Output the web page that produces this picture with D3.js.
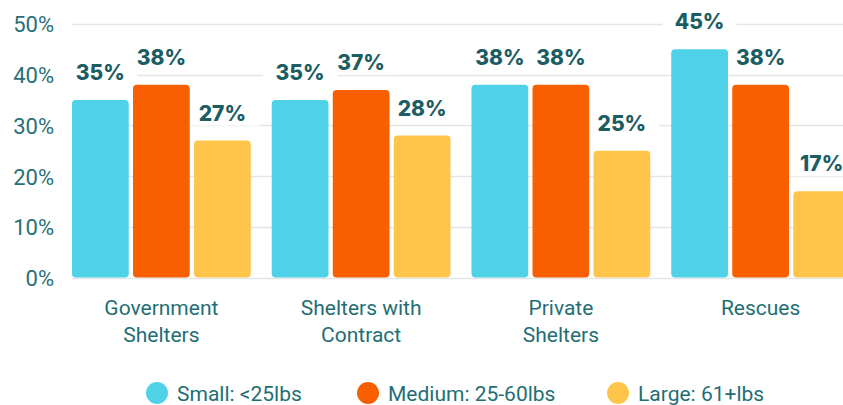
<!DOCTYPE html>
<html>
<head>
<meta charset="utf-8">
<script src="https://cdn.jsdelivr.net/npm/d3@7"></script>
<style>
  html, body { margin: 0; padding: 0; background: #ffffff; }
  svg { display: block; }
</style>
</head>
<body>
<svg id="chart" width="843" height="405"></svg>
<script>
// Share of dogs by size, per organisation type
const categories = [["Government", "Shelters"], ["Shelters with", "Contract"], ["Private", "Shelters"], ["Rescues"]];
const seriesNames = ["Small: <25lbs", "Medium: 25-60lbs", "Large: 61+lbs"];
const small = [35, 35, 38, 45];
const medium = [38, 37, 38, 38];
const large = [27, 28, 25, 17];
const yTicks = [0, 10, 20, 30, 40, 50];

const colors = ["#4fd1e8", "#f75f00", "#ffc54a"];
const series = [small, medium, large];

const svg = d3.select("#chart");
const W = 843, H = 405;

const x = d3.scaleBand()
  .domain(d3.range(categories.length))
  .range([61.5, 860.5])
  .paddingInner(0.105)
  .paddingOuter(0.0525);

const xs = d3.scaleBand()
  .domain(d3.range(series.length))
  .range([0, x.bandwidth()])
  .paddingInner(0.07);

const y = d3.scaleLinear().domain([0, 50]).range([277.5, 24]);

// flatten to one record per bar
const bars = [];
categories.forEach((c, ci) => {
  series.forEach((s, si) => {
    bars.push({ ci, si, value: s[ci], cx: x(ci) + xs(si) + xs.bandwidth() / 2 });
  });
});

// gridlines
svg.append("g")
  .selectAll("line")
  .data(yTicks)
  .join("line")
  .attr("x1", x(0))
  .attr("x2", W)
  .attr("y1", d => Math.round(y(d)) + 0.5)
  .attr("y2", d => Math.round(y(d)) + 0.5)
  .attr("stroke", "#e2e6e8")
  .attr("stroke-width", 1.5);

// y axis labels
const yAxis = d3.axisLeft(y).tickValues(yTicks).tickFormat(d => d + "%").tickSize(0).tickPadding(0);
const gy = svg.append("g").attr("transform", "translate(54,0)").call(yAxis);
gy.select(".domain").remove();
gy.selectAll("text")
  .attr("fill", "#2a6f77")
  .attr("font-family", "Roboto, sans-serif")
  .attr("font-size", 22)
  .attr("dy", "0.36em");

// white backing behind value labels (hides gridlines)
svg.append("g")
  .selectAll("rect")
  .data(bars)
  .join("rect")
  .attr("x", d => d.cx - 37)
  .attr("y", d => y(d.value) - 41)
  .attr("width", 74)
  .attr("height", 26)
  .attr("fill", "#ffffff");

// bars
svg.append("g")
  .selectAll("rect")
  .data(bars)
  .join("rect")
  .attr("x", d => x(d.ci) + xs(d.si))
  .attr("y", d => y(d.value))
  .attr("width", xs.bandwidth())
  .attr("height", d => y(0) - y(d.value))
  .attr("rx", 4)
  .attr("fill", d => colors[d.si]);

// value labels
svg.append("g")
  .selectAll("text")
  .data(bars)
  .join("text")
  .attr("x", d => d.cx)
  .attr("y", d => y(d.value) - 20)
  .attr("text-anchor", "middle")
  .attr("font-family", "Inter, sans-serif")
  .attr("font-weight", 800)
  .attr("font-size", 21)
  .attr("fill", "#1b5d63")
  .text(d => d.value + "%");

// category labels
svg.append("g")
  .selectAll("text")
  .data(categories)
  .join("text")
  .attr("y", 315)
  .attr("text-anchor", "middle")
  .attr("font-family", "Roboto, sans-serif")
  .attr("font-size", 21)
  .attr("fill", "#236e75")
  .each(function (d, i) {
    const cx = x(i) + x.bandwidth() / 2;
    d3.select(this).selectAll("tspan")
      .data(d)
      .join("tspan")
      .attr("x", cx)
      .attr("dy", (t, j) => j === 0 ? 0 : 27)
      .text(t => t);
  });

// legend
const legendX = [157, 368, 618];
const legend = svg.append("g")
  .selectAll("g")
  .data(seriesNames)
  .join("g")
  .attr("transform", (d, i) => `translate(${legendX[i]},393)`);
legend.append("circle").attr("r", 11).attr("fill", (d, i) => colors[i]);
legend.append("text")
  .attr("x", 20)
  .attr("y", 0)
  .attr("dy", "0.36em")
  .attr("font-family", "Roboto, sans-serif")
  .attr("font-size", 21)
  .attr("fill", "#236e75")
  .text(d => d);
</script>
</body>
</html>
